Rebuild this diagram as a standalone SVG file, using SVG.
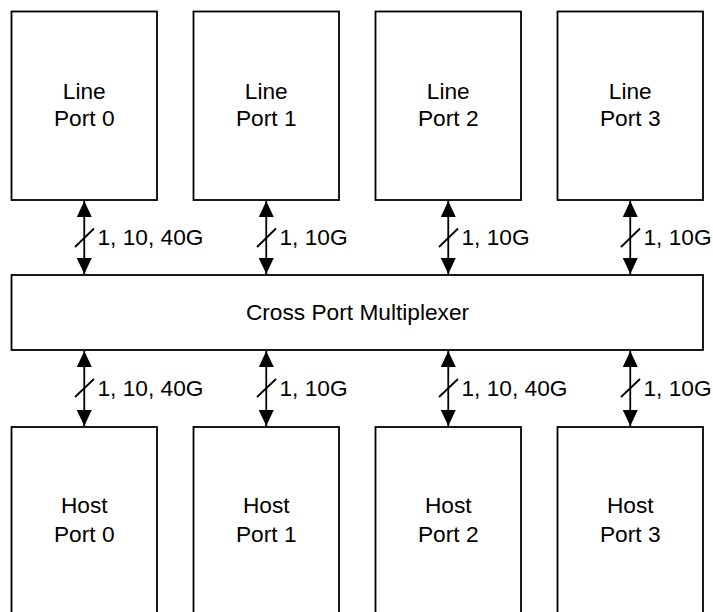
<svg xmlns="http://www.w3.org/2000/svg" width="713" height="612" viewBox="0 0 713 612">
<defs>
<style>
.box{fill:#fff;stroke:#000;stroke-width:1.8}
.t{font-family:"Liberation Sans",Arial,sans-serif;font-size:22.7px;fill:#000}
.c{text-anchor:middle}
.ln{stroke:#000;stroke-width:1.8;fill:none}
</style>
<marker id="ah" viewBox="0 0 16 15" refX="16" refY="7.5" markerWidth="16" markerHeight="15" markerUnits="userSpaceOnUse" orient="auto-start-reverse">
<path d="M0,0 L16,7.5 L0,15 Z" fill="#000"/>
</marker>
</defs>
<rect width="713" height="612" fill="#fff"/>
<g id="line0"><rect class="box" x="11.5" y="11.5" width="145.5" height="188.5"/><text class="t c" x="84.25" y="99.3">Line</text><text class="t c" x="84.25" y="126">Port 0</text></g>
<g id="line1"><rect class="box" x="193.5" y="11.5" width="145.5" height="188.5"/><text class="t c" x="266.25" y="99.3">Line</text><text class="t c" x="266.25" y="126">Port 1</text></g>
<g id="line2"><rect class="box" x="375.5" y="11.5" width="145.5" height="188.5"/><text class="t c" x="448.25" y="99.3">Line</text><text class="t c" x="448.25" y="126">Port 2</text></g>
<g id="line3"><rect class="box" x="557.5" y="11.5" width="145.5" height="188.5"/><text class="t c" x="630.25" y="99.3">Line</text><text class="t c" x="630.25" y="126">Port 3</text></g>
<g id="mux"><rect class="box" x="11.5" y="275" width="691.5" height="75"/><text class="t c" x="357.5" y="319.5">Cross Port Multiplexer</text></g>
<g id="host0"><rect class="box" x="11.5" y="427" width="145.5" height="200"/><text class="t c" x="84.25" y="513">Host</text><text class="t c" x="84.25" y="541.5">Port 0</text></g>
<g id="host1"><rect class="box" x="193.5" y="427" width="145.5" height="200"/><text class="t c" x="266.25" y="513">Host</text><text class="t c" x="266.25" y="541.5">Port 1</text></g>
<g id="host2"><rect class="box" x="375.5" y="427" width="145.5" height="200"/><text class="t c" x="448.25" y="513">Host</text><text class="t c" x="448.25" y="541.5">Port 2</text></g>
<g id="host3"><rect class="box" x="557.5" y="427" width="145.5" height="200"/><text class="t c" x="630.25" y="513">Host</text><text class="t c" x="630.25" y="541.5">Port 3</text></g>
<g id="connectors">
<path class="ln" d="M84.25,201 V274" marker-start="url(#ah)" marker-end="url(#ah)"/>
<path class="ln" d="M266.25,201 V274" marker-start="url(#ah)" marker-end="url(#ah)"/>
<path class="ln" d="M448.25,201 V274" marker-start="url(#ah)" marker-end="url(#ah)"/>
<path class="ln" d="M630.25,201 V274" marker-start="url(#ah)" marker-end="url(#ah)"/>
<path class="ln" d="M84.25,351 V426" marker-start="url(#ah)" marker-end="url(#ah)"/>
<path class="ln" d="M266.25,351 V426" marker-start="url(#ah)" marker-end="url(#ah)"/>
<path class="ln" d="M448.25,351 V426" marker-start="url(#ah)" marker-end="url(#ah)"/>
<path class="ln" d="M630.25,351 V426" marker-start="url(#ah)" marker-end="url(#ah)"/>
<path class="ln" d="M75,247 L94,228.5 M257,247 L276,228.5 M439,247 L458,228.5 M621,247 L640,228.5"/>
<path class="ln" d="M75,397 L94,379 M257,397 L276,379 M439,397 L458,379 M621,397 L640,379"/>
<text class="t" x="97.5" y="245">1, 10, 40G</text>
<text class="t" x="279.5" y="245">1, 10G</text>
<text class="t" x="461.5" y="245">1, 10G</text>
<text class="t" x="643.5" y="245">1, 10G</text>
<text class="t" x="97.5" y="396">1, 10, 40G</text>
<text class="t" x="279.5" y="396">1, 10G</text>
<text class="t" x="461.5" y="396">1, 10, 40G</text>
<text class="t" x="643.5" y="396">1, 10G</text>
</g>
</svg>
